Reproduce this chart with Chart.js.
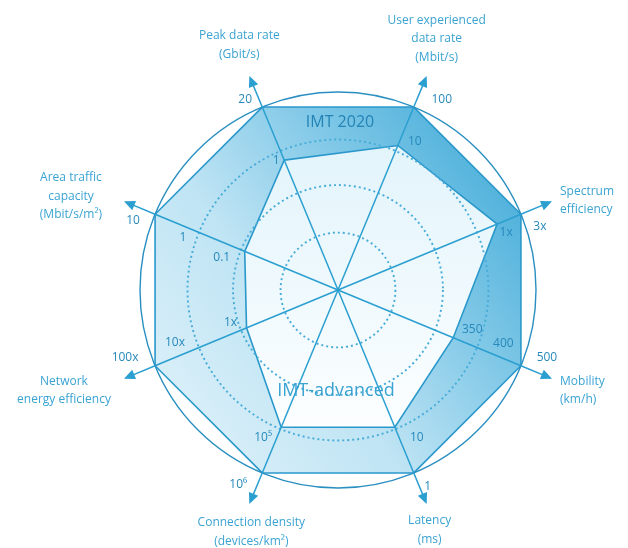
<!DOCTYPE html>
<html>
<head>
<meta charset="utf-8">
<script src="https://cdn.jsdelivr.net/npm/chart.js@4.4.1/dist/chart.umd.min.js"></script>
<style>
  body { margin: 0; background: #fff; }
</style>
</head>
<body>
<canvas id="radarChart" width="628" height="548"></canvas>
<script>
// Ejes del gráfico (en sentido horario desde arriba a la izquierda)
const axisNames = [
    ['Peak data rate', '(Gbit/s)'],
    ['User experienced', 'data rate', '(Mbit/s)'],
    ['Spectrum', 'efficiency'],
    ['Mobility', '(km/h)'],
    ['Latency', '(ms)'],
    ['Connection density', '(devices/km²)'],
    ['Network', 'energy efficiency'],
    ['Area traffic', 'capacity', '(Mbit/s/m²)']
];

// Posición relativa (0-100) de cada requisito sobre su eje
const imt2020 = [100, 100, 100, 100, 100, 100, 100, 100];
const imtAdvanced = [71, 79, 87, 63, 75, 75, 50, 51];

// Etiquetas de cada eje y su posición relativa
const tickLabels = [
    ['1', '20'],
    ['10', '100'],
    ['1x', '3x'],
    ['350', '400', '500'],
    ['10', '1'],
    ['10⁵', '10⁶'],
    ['1x', '10x', '100x'],
    ['0.1', '1', '10']
];
const tickValues = [
    [71, 100],
    [79, 100],
    [87, 100],
    [63, 80, 100],
    [75, 100],
    [75, 100],
    [50, 76, 100],
    [51, 76, 100]
];

// Círculos de referencia
const gridLevels = [0, 29, 53, 76, 100];

// Estilos: desplazamientos de los textos
const tickOffsets = [
    [[-8, 0], [-17, -7]],
    [[17, -4], [28, -7]],
    [[9, 8], [19, 12]],
    [[19, -8], [19, -7], [26, -8]],
    [[22, 10], [14, 14]],
    [[-18, 10], [-24, 12]],
    [[-16, -5], [-24, -5], [-30, -8]],
    [[-23, 6], [-16, 5], [-22, 6]]
];
const titleOffsets = [
    [-10, -31, 'center'], [10, -37, 'center'], [8, -1, 'left'], [8, 12, 'left'],
    [3, 26, 'center'], [2, 28, 'center'], [-60, 12, 'center'], [-53, -5, 'center']
];
const arrowValue = 117;
const lineBlue = '#2a9fd0';
const textBlue = '#2689bb';
const fontFamily = "'Open Sans', 'DejaVu Sans', sans-serif";

// Plugin para flechas, etiquetas y títulos
const decorPlugin = {
    id: 'decor',
    afterDraw(chart) {
        const scale = chart.scales.r;
        const ctx = chart.ctx;
        ctx.save();

        // Extensión de los ejes con flecha
        axisNames.forEach((name, i) => {
            const edge = scale.getPointPositionForValue(i, 100);
            const tip = scale.getPointPositionForValue(i, arrowValue);
            const ang = Math.atan2(tip.y - edge.y, tip.x - edge.x);
            ctx.strokeStyle = lineBlue;
            ctx.fillStyle = lineBlue;
            ctx.lineWidth = 1.5;
            ctx.beginPath();
            ctx.moveTo(edge.x, edge.y);
            ctx.lineTo(tip.x - 8 * Math.cos(ang), tip.y - 8 * Math.sin(ang));
            ctx.stroke();
            ctx.beginPath();
            ctx.moveTo(tip.x, tip.y);
            ctx.lineTo(tip.x - 11 * Math.cos(ang) + 5 * Math.sin(ang), tip.y - 11 * Math.sin(ang) - 5 * Math.cos(ang));
            ctx.lineTo(tip.x - 11 * Math.cos(ang) - 5 * Math.sin(ang), tip.y - 11 * Math.sin(ang) + 5 * Math.cos(ang));
            ctx.closePath();
            ctx.fill();

            // Título del eje
            const off = titleOffsets[i];
            ctx.font = '12px ' + fontFamily;
            ctx.fillStyle = '#3aa3d2';
            ctx.textAlign = off[2];
            ctx.textBaseline = 'middle';
            const lh = 18.5;
            const y0 = tip.y + off[1] - (name.length - 1) * lh / 2;
            name.forEach((line, k) => ctx.fillText(line, tip.x + off[0], y0 + k * lh));

            // Etiquetas de valores
            ctx.font = '12px ' + fontFamily;
            ctx.fillStyle = textBlue;
            ctx.textAlign = 'center';
            tickLabels[i].forEach((lbl, k) => {
                const p = scale.getPointPositionForValue(i, tickValues[i][k]);
                const o = tickOffsets[i][k];
                ctx.fillText(lbl, p.x + o[0], p.y + o[1]);
            });
        });

        // Nombres de las series
        ctx.textAlign = 'center';
        ctx.textBaseline = 'middle';
        ctx.fillStyle = '#2383b4';
        ctx.font = '16px ' + fontFamily;
        ctx.fillText('IMT 2020', scale.xCenter + 2, scale.yCenter - 168);
        ctx.fillStyle = '#3aa3d2';
        ctx.font = '18px ' + fontFamily;
        ctx.fillText('IMT-advanced', scale.xCenter - 2, scale.yCenter + 101);
        ctx.restore();
    }
};

function outerFill(context) {
    const chartArea = context.chart.chartArea;
    if (!chartArea) return 'rgba(120,200,235,0.6)';
    const g = context.chart.ctx.createLinearGradient(chartArea.left, chartArea.bottom - 40, chartArea.right, chartArea.top + 60);
    g.addColorStop(0, '#e2f3fa');
    g.addColorStop(0.4, '#bfe4f4');
    g.addColorStop(0.7, '#7cc6e6');
    g.addColorStop(1, '#3ea9d7');
    return g;
}

function innerFill(context) {
    const chartArea = context.chart.chartArea;
    if (!chartArea) return '#eef8fc';
    const g = context.chart.ctx.createLinearGradient(0, chartArea.top + 50, 0, chartArea.bottom - 60);
    g.addColorStop(0, '#e2f4fb');
    g.addColorStop(1, '#fcfeff');
    return g;
}

const ctxRadar = document.getElementById('radarChart').getContext('2d');
const radarChart = new Chart(ctxRadar, {
    type: 'radar',
    data: {
        labels: axisNames,
        datasets: [{
            label: 'IMT-advanced',
            data: imtAdvanced,
            backgroundColor: innerFill,
            borderColor: '#2a98cb',
            borderWidth: 1.6,
            pointRadius: 0,
            fill: true
        }, {
            label: 'IMT 2020',
            data: imt2020,
            backgroundColor: outerFill,
            borderColor: '#2a98cb',
            borderWidth: 1.6,
            pointRadius: 0,
            fill: true
        }]
    },
    options: {
        responsive: false,
        animation: false,
        layout: { padding: { left: 140, right: 92, top: 92, bottom: 60 } },
        plugins: {
            legend: { display: false },
            tooltip: { enabled: false }
        },
        scales: {
            r: {
                min: 0,
                max: 100,
                startAngle: -22.5,
                afterBuildTicks: (scale) => {
                    scale.ticks = gridLevels.map(v => ({ value: v }));
                },
                ticks: { display: false },
                pointLabels: { display: false },
                angleLines: { display: true, color: lineBlue, lineWidth: 1.5 },
                grid: {
                    // z > 0: la rejilla se dibuja encima de los rellenos
                    z: 1,
                    circular: true,
                    color: (c) => c.index === gridLevels.length - 1 ? '#2a8fc0' : '#48acd8',
                    lineWidth: (c) => c.index === gridLevels.length - 1 ? 1.4 : 1.9
                },
                border: {
                    dash: (c) => c.index === gridLevels.length - 1 ? [] : [2, 3]
                }
            }
        }
    },
    plugins: [decorPlugin]
});
</script>
</body>
</html>
